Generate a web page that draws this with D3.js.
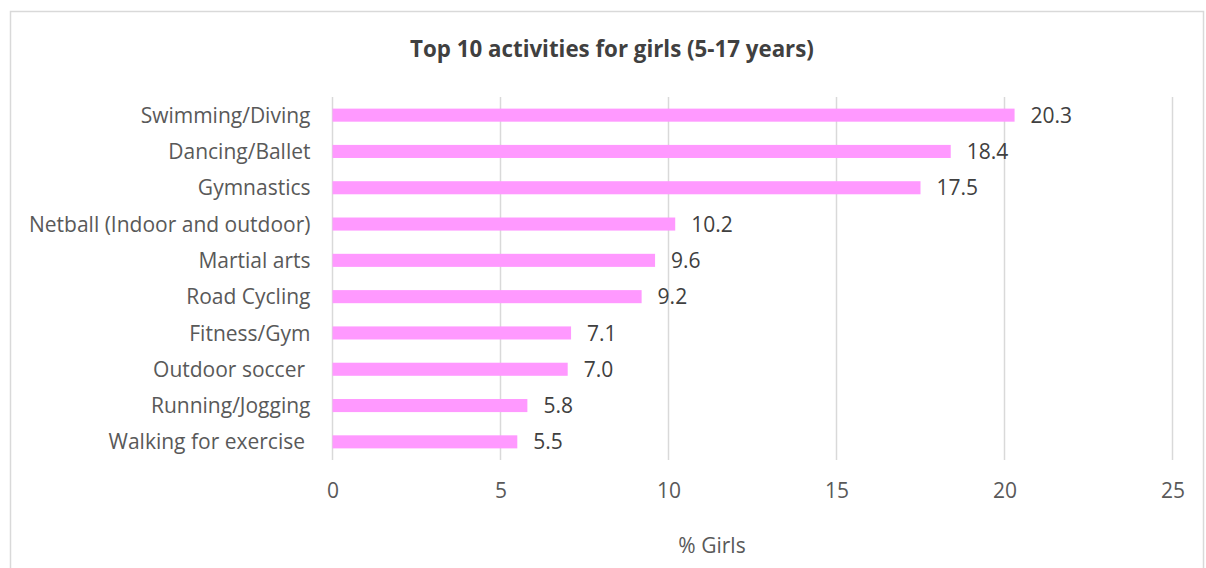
<!DOCTYPE html>
<html><head><meta charset="utf-8">
<script src="https://cdn.jsdelivr.net/npm/d3@7"></script>
<style>body{margin:0;background:#fff}svg{display:block}text{font-family:"Open Sans",sans-serif}</style>
</head><body><svg id="c" width="1206" height="568"></svg>
<script>
const categories = ["Swimming/Diving","Dancing/Ballet","Gymnastics","Netball (Indoor and outdoor)","Martial arts","Road Cycling","Fitness/Gym","Outdoor soccer ","Running/Jogging","Walking for exercise "];
const values = [20.3,18.4,17.5,10.2,9.6,9.2,7.1,7.0,5.8,5.5];
const valueLabels = ["20.3","18.4","17.5","10.2","9.6","9.2","7.1","7.0","5.8","5.5"];
const tickValues = [0,5,10,15,20,25];
const title = "Top 10 activities for girls (5-17 years)";
const xTitle = "% Girls";

const FS = 21;
const svg = d3.select("#c");
svg.append("rect").attr("x",10.5).attr("y",11.5).attr("width",1193).attr("height",600)
  .attr("fill","#fff").attr("stroke","#d9d9d9").attr("stroke-width",1.5);

const x = d3.scaleLinear().domain([0,25]).range([332.5,1172.5]);
const y = d3.scaleBand().domain(categories).range([97,460]).paddingInner(0.64).paddingOuter(0.32);

svg.append("g").selectAll("line").data(tickValues).join("line")
  .attr("x1",d=>x(d)).attr("x2",d=>x(d)).attr("y1",97).attr("y2",460)
  .attr("stroke","#d9d9d9").attr("stroke-width",1.5);

svg.append("g").selectAll("rect").data(values).join("rect")
  .attr("x",x(0)).attr("y",(d,i)=>y(categories[i]))
  .attr("width",d=>x(d)-x(0)).attr("height",y.bandwidth())
  .attr("fill","#ff99ff");

const yAxis = d3.axisLeft(y).tickSize(0).tickPadding(22);
const ya = svg.append("g").attr("transform",`translate(${x(0)},0)`).call(yAxis);
ya.select(".domain").remove();
ya.selectAll("text").attr("font-size",FS).attr("fill","#595959").style("white-space","pre")
  .attr("font-family","'Open Sans', sans-serif").attr("dy","0.36em");

svg.append("g").selectAll("text").data(values).join("text")
  .attr("x",d=>x(d)+16).attr("y",(d,i)=>y(categories[i])+y.bandwidth()/2)
  .attr("dy","0.36em").attr("font-size",FS).attr("fill","#404040")
  .text((d,i)=>valueLabels[i]);

const xAxis = d3.axisBottom(x).tickValues(tickValues).tickSize(0).tickPadding(23);
const xa = svg.append("g").attr("transform","translate(0,460)").call(xAxis);
xa.select(".domain").remove();
xa.selectAll("text").attr("font-size",FS).attr("fill","#595959").attr("font-family","'Open Sans', sans-serif");

svg.append("text").attr("x",612).attr("y",57).attr("text-anchor","middle")
  .attr("font-size",22.3).attr("font-weight","bold").attr("fill","#404040").text(title);
svg.append("text").attr("x",712).attr("y",553).attr("text-anchor","middle")
  .attr("font-size",FS).attr("fill","#595959").text(xTitle);
</script></body></html>
